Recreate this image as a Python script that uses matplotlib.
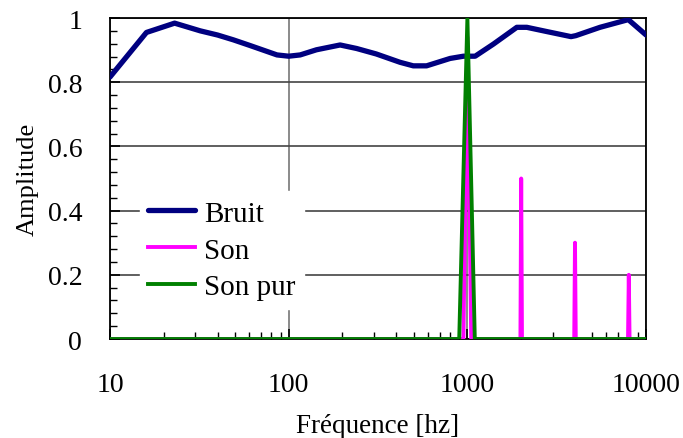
import matplotlib
matplotlib.use("Agg")
import matplotlib.pyplot as plt
from matplotlib.ticker import FixedLocator, LogLocator, NullFormatter, MultipleLocator

# Noise spectrum ("Bruit")
bruit_f = [10, 16, 23, 32, 40, 49, 61, 72, 86, 100, 116, 143, 194, 240, 309, 420,
           498, 591, 800, 950, 1105, 1400, 1890, 2150, 2770, 3800, 4040, 5520, 7950, 10000]
bruit_a = [0.816, 0.955, 0.984, 0.960, 0.947, 0.932, 0.914, 0.900, 0.885, 0.881, 0.885,
           0.901, 0.916, 0.905, 0.888, 0.862, 0.851, 0.851, 0.874, 0.881, 0.881, 0.919,
           0.971, 0.971, 0.958, 0.942, 0.945, 0.971, 0.995, 0.947]

# Instrument tone ("Son"): fundamental plus harmonics
son_f = [10, 950, 1000, 1050, 1980, 2000, 2020, 3960, 4000, 4040, 7920, 8000, 8080, 10000]
son_a = [0, 0, 0.94, 0, 0, 0.50, 0, 0, 0.30, 0, 0, 0.20, 0, 0]

# Pure tone ("Son pur")
pur_f = [10, 900, 1000, 1100, 10000]
pur_a = [0, 0, 1.0, 0, 0]

xticks = [10, 100, 1000, 10000]
xticklabels = ["10", "100", "1000", "10000"]
yticks = [0, 0.2, 0.4, 0.6, 0.8, 1.0]
yticklabels = ["0", "0.2", "0.4", "0.6", "0.8", "1"]

plt.rcParams["font.family"] = ["Liberation Serif", "DejaVu Serif"]
plt.rcParams["axes.linewidth"] = 1.3

fig = plt.figure(figsize=(6.83, 4.39), dpi=100)
ax = fig.add_axes([0.161, 0.2255, 0.785, 0.7312])

ax.plot(bruit_f, bruit_a, color="#000080", lw=3.8, label="Bruit", solid_capstyle="round", zorder=3)
ax.plot(son_f, son_a, color="#FF00FF", lw=2.8, label="Son", zorder=4)
ax.plot(pur_f, pur_a, color="#008000", lw=2.8, label="Son pur", zorder=5)

ax.set_xscale("log")
ax.set_xlim(10, 10000)
ax.set_ylim(0, 1)

ax.xaxis.set_major_locator(FixedLocator(xticks))
ax.set_xticklabels(xticklabels)
ax.xaxis.set_minor_locator(LogLocator(base=10, subs=range(2, 10)))
ax.xaxis.set_minor_formatter(NullFormatter())
ax.set_yticks(yticks)
ax.set_yticklabels(yticklabels)
ax.yaxis.set_minor_locator(MultipleLocator(0.04))

ax.tick_params(axis="both", which="major", direction="in", length=7, width=1.2,
               labelsize=20, colors="black")
ax.tick_params(axis="both", which="minor", direction="in", length=5, width=1.0)
ax.tick_params(axis="x", which="major", pad=24)
ax.tick_params(axis="y", which="major", pad=20)

ax.grid(True, axis="y", which="major", color="#444444", lw=1.2, zorder=1)
ax.grid(True, axis="x", which="major", color="#777777", lw=1.2, zorder=1)
ax.set_axisbelow(True)

ax.set_xlabel("Fréquence [hz]", fontsize=19.5, labelpad=11)
ax.set_ylabel("Amplitude", fontsize=19, labelpad=6)

leg = ax.legend(loc="upper left", bbox_to_anchor=(0.028, 0.505), frameon=True,
                fontsize=21, handlelength=1.6, handletextpad=0.3,
                labelspacing=0.36, borderpad=0.3)
leg.get_frame().set_edgecolor("white")
leg.get_frame().set_facecolor("white")
leg.get_frame().set_alpha(1.0)
leg.set_zorder(6)

fig.savefig("out.png", dpi=100)
